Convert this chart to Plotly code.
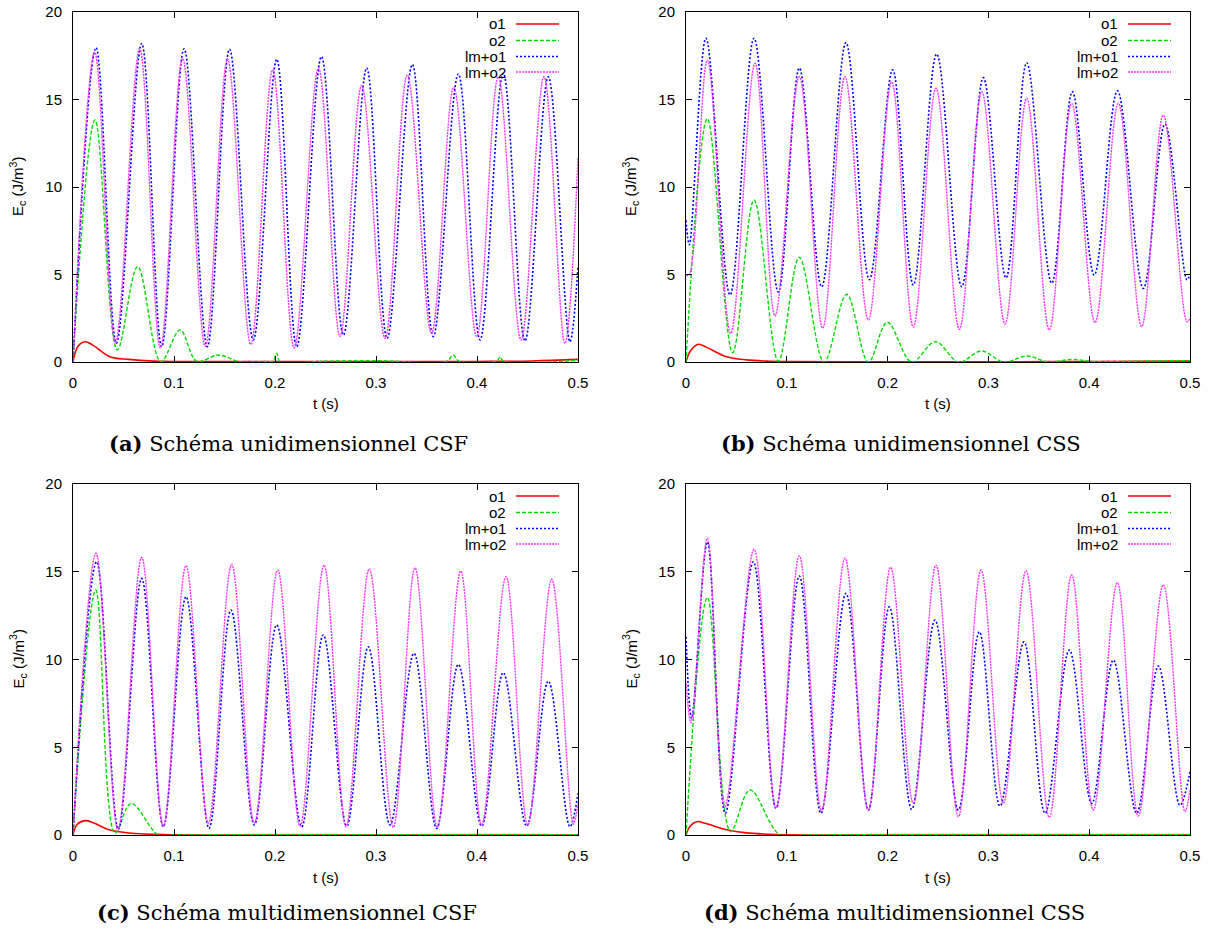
import plotly.graph_objects as go

# ---------------- data ----------------
x_ticks = [0, 0.1, 0.2, 0.3, 0.4, 0.5]
x_ticklabels = ["0", "0.1", "0.2", "0.3", "0.4", "0.5"]
y_ticks = [0, 5, 10, 15, 20]
y_ticklabels = ["0", "5", "10", "15", "20"]
series_names = ["o1", "o2", "lm+o1", "lm+o2"]
captions = ["<b>(a)</b> Schéma unidimensionnel CSF",
            "<b>(b)</b> Schéma unidimensionnel CSS",
            "<b>(c)</b> Schéma multidimensionnel CSF",
            "<b>(d)</b> Schéma multidimensionnel CSS"]

# panel (a)
t_a_o1 = [0, 0.005, 0.0119, 0.02, 0.0366, 0.055, 0.08, 0.12, 0.2, 0.3, 0.4, 0.455, 0.5]
y_a_o1 = [0, 0.9, 1.16, 0.95, 0.3, 0.15, 0.05, 0.02, 0.02, 0.02, 0.03, 0.06, 0.15]
t_a_o2 = [0, 0.0218, 0.0439, 0.064, 0.087, 0.106, 0.1225, 0.144, 0.165, 0.19, 0.198, 0.2017, 0.205,
          0.25, 0.3, 0.37, 0.3765, 0.382, 0.42, 0.4228, 0.426, 0.5]
y_a_o2 = [0, 13.83, 0.69, 5.45, 0.02, 1.83, 0.05, 0.4, 0.02, 0.03, 0.05, 0.5, 0.03,
          0.05, 0.08, 0.05, 0.4, 0.05, 0.08, 0.3, 0.05, 0.1]
t_a_lmo1 = [0, 0.0228, 0.043, 0.068, 0.0878, 0.110, 0.133, 0.155, 0.1785, 0.2017, 0.2215, 0.246,
            0.2677, 0.2908, 0.311, 0.336, 0.3567, 0.3815, 0.403, 0.426, 0.4475, 0.4706, 0.492, 0.5]
y_a_lmo1 = [0, 17.96, 1.08, 18.2, 0.87, 17.9, 0.87, 17.87, 1.26, 17.3, 0.87, 17.45,
            1.54, 16.8, 1.35, 17.0, 1.45, 16.46, 1.26, 16.5, 1.2, 16.3, 1.16, 5.45]
t_a_lmo2 = [0, 0.0215, 0.042, 0.066, 0.0865, 0.1085, 0.131, 0.153, 0.176, 0.1977, 0.219, 0.243,
            0.2644, 0.2858, 0.309, 0.331, 0.355, 0.377, 0.3997, 0.421, 0.4436, 0.4663, 0.487, 0.5]
y_a_lmo2 = [0, 17.7, 1.1, 17.9, 0.8, 17.35, 0.9, 17.3, 1.0, 16.7, 0.8, 16.8,
            1.45, 15.8, 1.35, 16.4, 1.64, 15.7, 1.45, 16.3, 1.26, 16.3, 1.07, 11.7]

# panel (b)
t_b_o1 = [0, 0.004, 0.0122, 0.02, 0.0403, 0.06, 0.08, 0.1, 0.2, 0.3, 0.4, 0.5]
y_b_o1 = [0, 0.6, 1.01, 0.85, 0.3, 0.12, 0.05, 0.02, 0.01, 0.01, 0.03, 0.05]
t_b_o2 = [0, 0.0212, 0.0463, 0.0675, 0.0916, 0.1124, 0.137, 0.1594, 0.1809, 0.1997, 0.2239, 0.2473,
          0.2705, 0.293, 0.3152, 0.3383, 0.3598, 0.3829, 0.405, 0.45, 0.5]
y_b_o2 = [0, 13.9, 0.53, 9.26, 0.05, 5.98, 0.0, 3.87, 0.0, 2.27, 0.0, 1.16,
          0.0, 0.63, 0.0, 0.34, 0.0, 0.15, 0.02, 0.05, 0.08]
t_b_lmo1 = [0, 0.0033, 0.0198, 0.0437, 0.0675, 0.0916, 0.1124, 0.1346, 0.1587, 0.1819, 0.205, 0.2255,
            0.2487, 0.2735, 0.295, 0.3175, 0.338, 0.3628, 0.3833, 0.405, 0.428, 0.4537, 0.4752, 0.497, 0.5]
y_b_lmo1 = [8.1, 6.7, 18.5, 3.83, 18.5, 4.0, 16.8, 4.3, 18.25, 4.7, 16.7, 4.4,
            17.6, 4.3, 16.25, 4.8, 17.1, 4.5, 15.45, 4.97, 15.5, 4.2, 13.6, 4.7, 5.0]
t_b_lmo2 = [0, 0.003, 0.0212, 0.0443, 0.0685, 0.0883, 0.1124, 0.1356, 0.1577, 0.1809, 0.204, 0.2255,
            0.248, 0.2712, 0.2934, 0.3165, 0.338, 0.3604, 0.3826, 0.4058, 0.4289, 0.452, 0.4735, 0.497, 0.5]
y_b_lmo2 = [4.97, 4.97, 17.25, 1.64, 17.07, 2.63, 16.3, 1.93, 16.3, 2.4, 16.0, 2.0,
            15.64, 1.87, 15.45, 2.17, 15.07, 1.83, 14.78, 2.25, 14.78, 2.02, 14.1, 2.3, 2.5]

# panel (c)
t_c_o1 = [0, 0.004, 0.0119, 0.02, 0.0366, 0.059, 0.09, 0.15, 0.3, 0.5]
y_c_o1 = [0, 0.6, 0.82, 0.7, 0.28, 0.1, 0.02, 0.0, 0.0, 0.0]
t_c_o2 = [0, 0.0225, 0.0416, 0.0574, 0.0845, 0.1, 0.2, 0.3, 0.4, 0.5]
y_c_o2 = [0, 13.96, 0.1, 1.8, 0.0, 0.0, 0.03, 0.02, 0.03, 0.02]
t_c_lmo1 = [0, 0.0234, 0.0449, 0.068, 0.0894, 0.1119, 0.1347, 0.1564, 0.1795, 0.2017, 0.2264, 0.2478,
            0.271, 0.2924, 0.3139, 0.3376, 0.36, 0.3815, 0.4046, 0.426, 0.4492, 0.4706, 0.492, 0.5]
y_c_lmo1 = [0, 15.57, 0.32, 14.62, 0.47, 13.58, 0.38, 12.82, 0.57, 11.97, 0.47, 11.4,
            0.51, 10.73, 0.57, 10.35, 0.38, 9.72, 0.51, 9.25, 0.51, 8.77, 0.47, 2.37]
t_c_lmo2 = [0, 0.0228, 0.0445, 0.068, 0.0894, 0.1119, 0.134, 0.1571, 0.1795, 0.2027, 0.2248, 0.2485,
            0.2703, 0.2934, 0.3171, 0.3386, 0.3607, 0.3839, 0.4046, 0.4287, 0.4502, 0.474, 0.4954, 0.5]
y_c_lmo2 = [0, 16.05, 0.3, 15.82, 0.5, 15.35, 0.67, 15.42, 0.67, 15.1, 0.5, 15.38,
            0.47, 15.16, 0.44, 15.23, 0.44, 15.04, 0.57, 14.72, 0.57, 14.57, 0.63, 1.8]

# panel (d)
t_d_o1 = [0, 0.004, 0.0106, 0.02, 0.0403, 0.06, 0.09, 0.15, 0.3, 0.5]
y_d_o1 = [0, 0.5, 0.76, 0.65, 0.3, 0.12, 0.03, 0.0, 0.0, 0.0]
t_d_o2 = [0, 0.0212, 0.0443, 0.0635, 0.0933, 0.12, 0.2, 0.3, 0.4, 0.5]
y_d_o2 = [0, 13.54, 0.2, 2.56, 0.0, 0.0, 0.03, 0.03, 0.03, 0.03]
t_d_lmo1 = [0, 0.0056, 0.0212, 0.039, 0.0668, 0.0893, 0.1124, 0.1339, 0.1587, 0.1809, 0.2017, 0.2239,
            0.247, 0.2702, 0.291, 0.3115, 0.3353, 0.3562, 0.3803, 0.4025, 0.4239, 0.4471, 0.4686, 0.49, 0.5]
y_d_lmo1 = [11.3, 6.65, 16.7, 1.24, 15.57, 1.52, 14.76, 1.24, 13.77, 1.42, 13.0, 1.46,
            12.25, 1.42, 11.58, 1.65, 11.01, 1.24, 10.54, 1.8, 9.97, 1.24, 9.63, 1.7, 3.6]
t_d_lmo2 = [0, 0.005, 0.0212, 0.0385, 0.0675, 0.0893, 0.1124, 0.1345, 0.1577, 0.1809, 0.203, 0.2255,
            0.248, 0.2702, 0.2927, 0.3148, 0.3373, 0.3604, 0.3826, 0.4041, 0.4279, 0.4487, 0.4735, 0.495, 0.5]
y_d_lmo2 = [8.64, 6.4, 16.9, 1.6, 16.28, 1.5, 15.9, 1.4, 15.77, 1.4, 15.25, 1.8,
            15.38, 1.04, 15.1, 1.8, 15.06, 1.0, 14.82, 1.42, 14.38, 1.08, 14.25, 1.33, 2.56]

# ---------------- layout / styling ----------------
W, H = 1209, 934
# plot-area pixel boxes on the page: (left, right, top, bottom)
boxes = [(73, 578, 12, 362), (686, 1190, 12, 362), (73, 578, 484, 835), (686, 1190, 484, 835)]
caption_pos = [(288, 443), (901, 443), (287, 912), (894, 912)]

styles = [
    dict(color="#ff0000", width=1.6, dash="solid"),
    dict(color="#00dd00", width=1.4, dash="4px,2px"),
    dict(color="#0000ff", width=1.6, dash="2px,2px"),
    dict(color="#ff33ff", width=1.4, dash="2px,1px"),
]

panel_data = [
    [(t_a_o1, y_a_o1), (t_a_o2, y_a_o2), (t_a_lmo1, y_a_lmo1), (t_a_lmo2, y_a_lmo2)],
    [(t_b_o1, y_b_o1), (t_b_o2, y_b_o2), (t_b_lmo1, y_b_lmo1), (t_b_lmo2, y_b_lmo2)],
    [(t_c_o1, y_c_o1), (t_c_o2, y_c_o2), (t_c_lmo1, y_c_lmo1), (t_c_lmo2, y_c_lmo2)],
    [(t_d_o1, y_d_o1), (t_d_o2, y_d_o2), (t_d_lmo1, y_d_lmo1), (t_d_lmo2, y_d_lmo2)],
]

SANS = "Liberation Sans, Arial, sans-serif"
SERIF = "DejaVu Serif, serif"


def px(x):
    return x / W


def py(y):
    return 1 - y / H


fig = go.Figure()
layout = dict(
    width=W, height=H, autosize=False,
    margin=dict(l=0, r=0, t=0, b=0, pad=0, autoexpand=False),
    paper_bgcolor="white", plot_bgcolor="white",
    showlegend=False,
    font=dict(family=SANS, size=15, color="black"),
)
annotations = []
shapes = []

for i, (box, data) in enumerate(zip(boxes, panel_data)):
    n = i + 1
    sfx = "" if n == 1 else str(n)
    L, R, T, B = box
    for (tx, ty), st, name in zip(data, styles, series_names):
        fig.add_trace(go.Scatter(
            x=tx, y=ty, mode="lines", name=name,
            line=dict(color=st["color"], width=st["width"], dash=st["dash"],
                      shape="spline", smoothing=1.0),
            xaxis="x" + sfx, yaxis="y" + sfx, hoverinfo="skip"))
    common = dict(showline=True, linecolor="black", linewidth=1, mirror="ticks",
                  ticks="inside", ticklen=6, tickwidth=1, tickcolor="black",
                  showgrid=False, zeroline=False, automargin=False,
                  ticklabeloverflow="allow",
                  tickfont=dict(family=SANS, size=15, color="black"))
    layout["xaxis" + sfx] = dict(common, domain=[px(L), px(R)], range=[0, 0.5],
                                 tickvals=x_ticks, ticktext=x_ticklabels,
                                 anchor="y" + sfx, ticklabelstandoff=7)
    layout["yaxis" + sfx] = dict(common, domain=[py(B), py(T)], range=[0, 20],
                                 tickvals=y_ticks, ticktext=y_ticklabels,
                                 anchor="x" + sfx, ticklabelstandoff=7)
    # axis titles
    annotations.append(dict(text="t (s)", x=px((L + R) / 2), y=py(B + 42),
                            xref="paper", yref="paper", showarrow=False,
                            xanchor="center", yanchor="middle",
                            font=dict(family=SANS, size=15)))
    annotations.append(dict(text="E<sub>c</sub> (J/m<sup>3</sup>)", x=px(L - 55), y=py((T + B) / 2),
                            xref="paper", yref="paper", showarrow=False, textangle=-90,
                            xanchor="center", yanchor="middle",
                            font=dict(family=SANS, size=15)))
    # key (drawn gnuplot-style: label then sample line)
    rows = [T + 12, T + 28.5, T + 44.5, T + 60]
    for st, name, ry in zip(styles, series_names, rows):
        annotations.append(dict(text=name, x=px(R - 70), y=py(ry), xref="paper", yref="paper",
                                showarrow=False, xanchor="right", yanchor="middle",
                                font=dict(family=SANS, size=15)))
        shapes.append(dict(type="line", xref="paper", yref="paper",
                           x0=px(R - 62), x1=px(R - 19), y0=py(ry), y1=py(ry),
                           line=dict(color=st["color"], width=st["width"], dash=st["dash"])))
    # caption
    cx, cy = caption_pos[i]
    annotations.append(dict(text=captions[i], x=px(cx), y=py(cy), xref="paper", yref="paper",
                            showarrow=False, xanchor="center", yanchor="middle",
                            font=dict(family=SERIF, size=21, color="black")))

layout["annotations"] = annotations
layout["shapes"] = shapes
fig.update_layout(**layout)

fig.write_html("out.html", config={"displayModeBar": False},
               post_script="document.body.style.margin='0';document.body.style.overflow='hidden';")
